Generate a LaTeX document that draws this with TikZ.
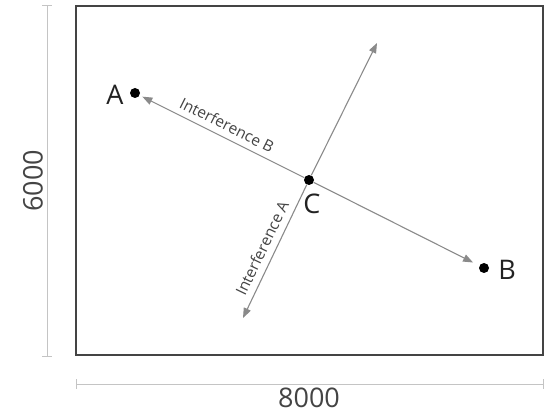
\documentclass[tikz,border=0pt]{standalone}
\usepackage{fontspec}
\setmainfont{Open Sans}
\usetikzlibrary{arrows.meta}
\definecolor{frame}{HTML}{444444}
\definecolor{dim}{HTML}{C4C4C4}
\definecolor{conn}{HTML}{8A8A8A}
\definecolor{txt}{HTML}{222222}
\tikzset{
  dot/.style={circle, fill=black, inner sep=0pt, minimum size=10pt},
  conn/.style={draw=conn, line width=1.1pt, -{Triangle[length=10pt,width=7.5pt]}},
  dimline/.style={draw=dim, line width=1pt},
  big/.style={font=\fontsize{27}{29}\selectfont, text=txt, inner sep=0pt},
  lbl/.style={font=\fontsize{15.5}{17}\selectfont, text=frame, inner sep=0pt}
}
\begin{document}
\begin{tikzpicture}[x=1pt,y=-1pt]
\useasboundingbox (0,0) rectangle (549,414);
% frame
\draw[frame, line width=1.4pt] (76,6) rectangle (543,355);
% dimension lines
\coordinate (v1) at (47,6);
\coordinate (v2) at (47,356);
\draw[dimline] (v1) -- (v2);
\draw[dimline] (42,6) -- (52,6);
\draw[dimline] (42,356) -- (52,356);
\coordinate (h1) at (76,384);
\coordinate (h2) at (543,384);
\draw[dimline] (h1) -- (h2);
\draw[dimline] (76,379) -- (76,389);
\draw[dimline] (543,379) -- (543,389);
\node[big, text=frame, rotate=90] (d6) at (33,181) {6000};
\node[big, text=frame] (d8) at (309,398) {8000};
% points
\node[dot] (A) at (135,93) {};
\node[dot] (B) at (484,268) {};
\node[dot] (C) at (309,180) {};
\node[big] (Al) at (115,95) {A};
\node[big] (Bl) at (507,270) {B};
\node[big] (Cl) at (312,204) {C};
\coordinate (U) at (377,43);
\coordinate (D) at (243,318);
% connectors
\draw[conn, shorten >=3pt] (C) -- (A);
\draw[conn, shorten >=7pt] (C) -- (B);
\draw[conn] (C) -- (U);
\draw[conn] (C) -- (D);
\node[lbl, rotate=-26.6] (IB) at (227,125) {Interference B};
\node[lbl, rotate=64.3] (IA) at (262,248) {Interference A};
\end{tikzpicture}
\end{document}
